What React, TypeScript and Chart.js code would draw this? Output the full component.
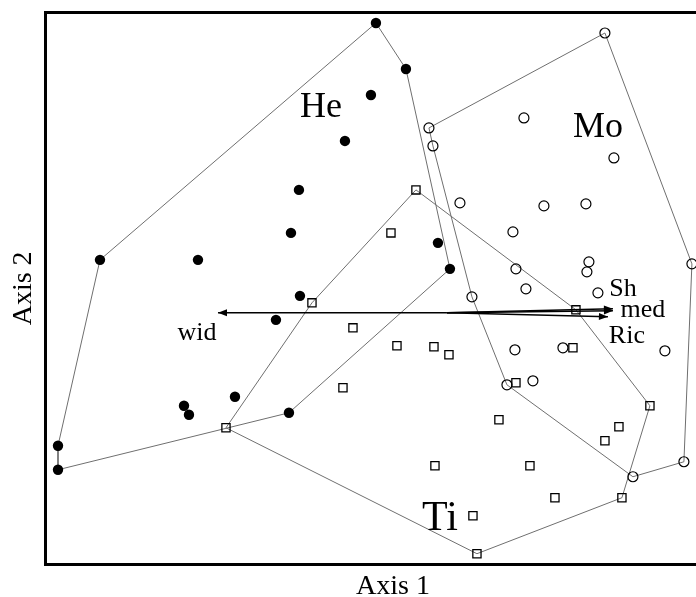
import React, { useEffect, useRef } from "react";
import { Chart, registerables } from "chart.js";

Chart.register(...registerables);

// Ordination scores (Axis 1, Axis 2)
const heX = [-0.71, -0.41, -0.76, -1.02, -1.48, -1.56, -0.09, 0.03, -1.47, -1.71, -2.49, -3.47, -2.12, -2.63, -2.58, -1.58, -3.89, -3.89];
const heY = [2.90, 2.44, 2.18, 1.72, 1.23, 0.80, 0.70, 0.44, 0.17, -0.07, 0.53, 0.53, -0.84, -0.93, -1.02, -1.00, -1.33, -1.57];

const moX = [1.58, -0.18, -0.14, 0.77, 1.67, 0.13, 0.97, 1.39, 0.66, 2.45, 1.42, 1.40, 0.69, 0.79, 1.51, 0.25, 0.68, 1.16, 2.18, 0.60, 0.86, 1.86, 2.37];
const moY = [2.80, 1.85, 1.67, 1.95, 1.55, 1.10, 1.07, 1.09, 0.81, 0.49, 0.51, 0.41, 0.44, 0.24, 0.20, 0.16, -0.37, -0.35, -0.38, -0.72, -0.68, -1.64, -1.49];

const tiX = [-0.31, -0.56, -1.35, -2.21, -1.04, -0.94, -0.50, -0.13, 0.02, 0.69, 1.29, 1.26, 2.03, 1.72, 1.58, 0.52, -0.12, 0.83, 1.08, 1.75, 0.26, 0.30];
const tiY = [1.23, 0.80, 0.10, -1.15, -0.75, -0.15, -0.33, -0.34, -0.42, -0.70, 0.03, -0.35, -0.93, -1.14, -1.28, -1.07, -1.53, -1.53, -1.85, -1.85, -2.03, -2.41];

const groupNames = ["He", "Mo", "Ti"];
const groupLabelX = [-1.26, 1.51, -0.07];
const groupLabelY = [1.96, 1.76, -2.17];
const groupLabelSize = [36, 36, 42];

// Biplot vectors
const vectorNames = ["wid", "Sh", "med", "Ric"];
const vectorX = [-2.29, 1.66, 1.66, 1.61];
const vectorY = [0.0, 0.04, 0.02, -0.04];
const vectorLabelX = [-2.5, 1.76, 1.96, 1.8];
const vectorLabelY = [-0.27, 0.17, -0.04, -0.3];

const axisXTitle = "Axis 1";
const axisYTitle = "Axis 2";
const xMin = -4.02;
const xMax = 2.94;
const yMin = -2.52;
const yMax = 3.01;

type P = { x: number; y: number };

function toPts(xs: number[], ys: number[]): P[] {
  return xs.map((x, i) => ({ x, y: ys[i] }));
}

function convexHull(points: P[]): P[] {
  const pts = points.slice().sort((a, b) => (a.x === b.x ? a.y - b.y : a.x - b.x));
  const cross = (o: P, a: P, b: P) => (a.x - o.x) * (b.y - o.y) - (a.y - o.y) * (b.x - o.x);
  const lower: P[] = [];
  for (const p of pts) {
    while (lower.length >= 2 && cross(lower[lower.length - 2], lower[lower.length - 1], p) <= 0) lower.pop();
    lower.push(p);
  }
  const upper: P[] = [];
  for (let i = pts.length - 1; i >= 0; i--) {
    const p = pts[i];
    while (upper.length >= 2 && cross(upper[upper.length - 2], upper[upper.length - 1], p) <= 0) upper.pop();
    upper.push(p);
  }
  const h = lower.slice(0, -1).concat(upper.slice(0, -1));
  h.push(h[0]);
  return h;
}

const SERIF = '"Liberation Serif", "Times New Roman", serif';

const overlayPlugin = {
  id: "overlay",
  afterDatasetsDraw(chart: any) {
    const { ctx } = chart;
    const xs = chart.scales.x;
    const ys = chart.scales.y;
    ctx.save();
    const ox = xs.getPixelForValue(0);
    const oy = ys.getPixelForValue(0);
    ctx.fillStyle = "#000";
    for (let i = 0; i < vectorX.length; i++) {
      const tx = xs.getPixelForValue(vectorX[i]);
      const ty = ys.getPixelForValue(vectorY[i]);
      const a = Math.atan2(ty - oy, tx - ox);
      const L = 9;
      const W = 3.5;
      const bx = tx - L * Math.cos(a);
      const by = ty - L * Math.sin(a);
      ctx.beginPath();
      ctx.moveTo(tx, ty);
      ctx.lineTo(bx - W * Math.sin(a), by + W * Math.cos(a));
      ctx.lineTo(bx + W * Math.sin(a), by - W * Math.cos(a));
      ctx.closePath();
      ctx.fill();
    }
    ctx.textAlign = "center";
    ctx.textBaseline = "alphabetic";
    for (let i = 0; i < groupNames.length; i++) {
      ctx.font = `${groupLabelSize[i]}px ${SERIF}`;
      ctx.fillText(groupNames[i], xs.getPixelForValue(groupLabelX[i]), ys.getPixelForValue(groupLabelY[i]));
    }
    ctx.font = `26px ${SERIF}`;
    for (let i = 0; i < vectorNames.length; i++) {
      ctx.fillText(vectorNames[i], xs.getPixelForValue(vectorLabelX[i]), ys.getPixelForValue(vectorLabelY[i]));
    }
    ctx.restore();
  },
};

export default function App() {
  const ref = useRef<HTMLCanvasElement | null>(null);
  useEffect(() => {
    if (!ref.current) return;
    const he = toPts(heX, heY);
    const mo = toPts(moX, moY);
    const ti = toPts(tiX, tiY);
    const hullStyle = {
      showLine: true,
      pointRadius: 0,
      borderColor: "#6f6f6f",
      borderWidth: 1,
      fill: false,
      order: 3,
    };
    const vectorSets = vectorNames.map((n, i) => ({
      label: n,
      data: [{ x: 0, y: 0 }, { x: vectorX[i], y: vectorY[i] }],
      showLine: true,
      pointRadius: 0,
      borderColor: "#000",
      borderWidth: 1.5,
      order: 2,
    }));
    const gridOff = { display: false, drawTicks: false, tickLength: 0 };
    const chart = new Chart(ref.current, {
      type: "scatter",
      data: {
        datasets: [
          { label: "He", data: he, pointStyle: "circle", pointRadius: 5.2, backgroundColor: "#000", borderColor: "#000", borderWidth: 0, order: 0 },
          { label: "Mo", data: mo, pointStyle: "circle", pointRadius: 5, backgroundColor: "rgba(0,0,0,0)", borderColor: "#000", borderWidth: 1.2, order: 0 },
          { label: "Ti", data: ti, pointStyle: "rect", pointRadius: 5.8, backgroundColor: "rgba(0,0,0,0)", borderColor: "#000", borderWidth: 1.3, order: 0 },
          { label: "He hull", data: convexHull(he), ...hullStyle },
          { label: "Mo hull", data: convexHull(mo), ...hullStyle },
          { label: "Ti hull", data: convexHull(ti), ...hullStyle },
          ...vectorSets,
        ] as any,
      },
      options: {
        animation: false,
        responsive: false,
        events: [],
        layout: { padding: { left: 0, top: 12, right: 0, bottom: 0 } },
        plugins: { legend: { display: false }, tooltip: { enabled: false } },
        scales: {
          x: {
            type: "linear",
            position: "bottom",
            min: xMin,
            max: xMax,
            grid: gridOff,
            ticks: { display: false },
            border: { display: true, color: "#000", width: 3 },
            title: {
              display: true,
              text: axisXTitle,
              color: "#000",
              font: { family: SERIF, size: 28 },
              padding: { top: 4.7, bottom: 0 },
            },
          },
          xTop: {
            type: "linear",
            axis: "x",
            position: "top",
            min: xMin,
            max: xMax,
            grid: gridOff,
            ticks: { display: false },
            border: { display: true, color: "#000", width: 3 },
          },
          y: {
            type: "linear",
            position: "left",
            min: yMin,
            max: yMax,
            grid: gridOff,
            ticks: { display: false },
            border: { display: true, color: "#000", width: 3 },
            title: {
              display: true,
              text: axisYTitle,
              color: "#000",
              font: { family: SERIF, size: 28 },
              padding: { top: 6.7, bottom: 4.7 },
            },
          },
        },
      } as any,
      plugins: [overlayPlugin],
    });
    return () => chart.destroy();
  }, []);
  return (
    <div style={{ position: "fixed", left: 0, top: 0, width: 696, height: 597, overflow: "hidden", background: "#fff" }}>
      <canvas ref={ref} width={748} height={603} style={{ display: "block", width: 748, height: 603 }} />
    </div>
  );
}
